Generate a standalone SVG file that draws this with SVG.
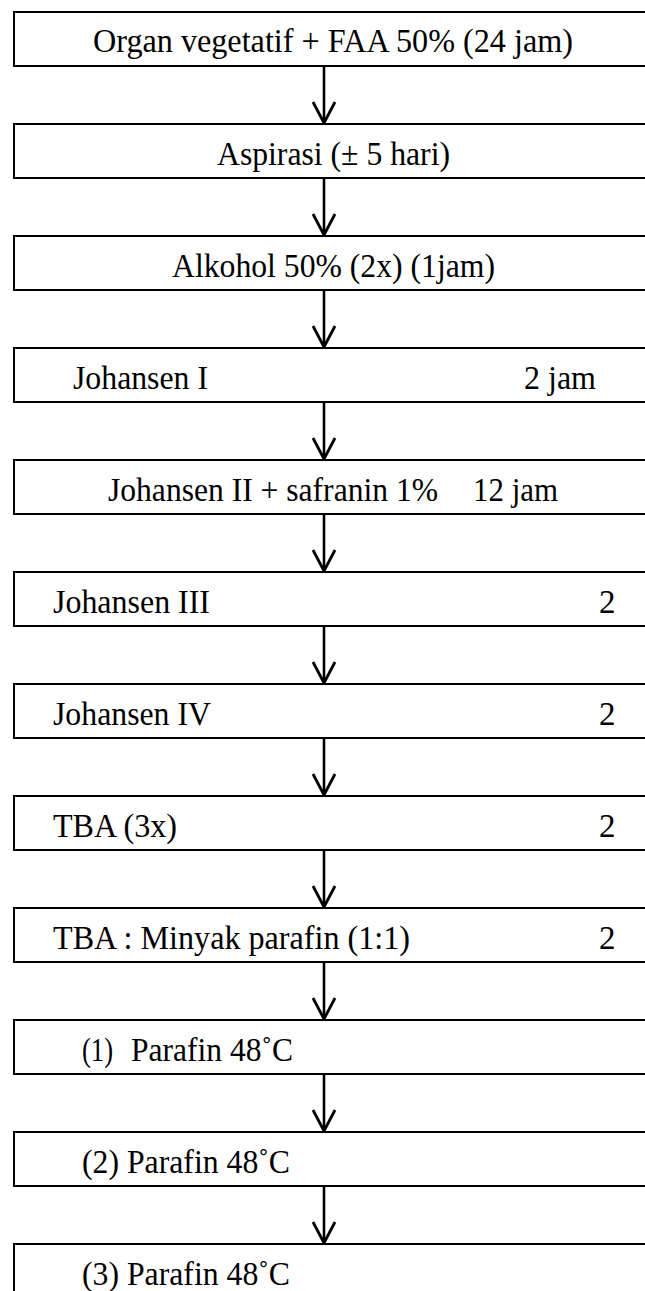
<svg xmlns="http://www.w3.org/2000/svg" width="645" height="1291" viewBox="0 0 645 1291">
<style>
.box{fill:#fff;stroke:#000;stroke-width:2}
.t{font-family:'Liberation Serif','Times New Roman',serif;font-size:33px;fill:#000}
.c{stroke:#000;stroke-width:2.6;fill:none}
</style>
<defs>
<marker id="arr" markerUnits="userSpaceOnUse" markerWidth="26" markerHeight="26" viewBox="-13 -24 26 26" refX="0" refY="0" orient="0" overflow="visible">
<path d="M-11,-21 L0,0 L11,-21" fill="none" stroke="#000" stroke-width="2.8" stroke-linejoin="miter"/>
</marker>
</defs>
<rect width="645" height="1291" fill="#fff"/>
<g id="connectors">
<line class="c" x1="324" y1="66" x2="324" y2="123" marker-end="url(#arr)"/>
<line class="c" x1="324" y1="178" x2="324" y2="235" marker-end="url(#arr)"/>
<line class="c" x1="324" y1="290" x2="324" y2="347" marker-end="url(#arr)"/>
<line class="c" x1="324" y1="402" x2="324" y2="459" marker-end="url(#arr)"/>
<line class="c" x1="324" y1="514" x2="324" y2="571" marker-end="url(#arr)"/>
<line class="c" x1="324" y1="626" x2="324" y2="683" marker-end="url(#arr)"/>
<line class="c" x1="324" y1="738" x2="324" y2="795" marker-end="url(#arr)"/>
<line class="c" x1="324" y1="850" x2="324" y2="907" marker-end="url(#arr)"/>
<line class="c" x1="324" y1="962" x2="324" y2="1019" marker-end="url(#arr)"/>
<line class="c" x1="324" y1="1074" x2="324" y2="1131" marker-end="url(#arr)"/>
<line class="c" x1="324" y1="1186" x2="324" y2="1243" marker-end="url(#arr)"/>
</g>
<g id="n1"><rect class="box" x="14" y="12" width="700" height="54"/><text class="t" x="93" y="52" textLength="480" lengthAdjust="spacingAndGlyphs">Organ vegetatif + FAA 50% (24 jam)</text></g>
<g id="n2"><rect class="box" x="14" y="124" width="700" height="54"/><text class="t" x="217" y="164.5" textLength="233" lengthAdjust="spacingAndGlyphs">Aspirasi (± 5 hari)</text></g>
<g id="n3"><rect class="box" x="14" y="236" width="700" height="54"/><text class="t" x="172" y="276.5" textLength="323" lengthAdjust="spacingAndGlyphs">Alkohol 50% (2x) (1jam)</text></g>
<g id="n4"><rect class="box" x="14" y="348" width="700" height="54"/><text class="t" x="73" y="388.5" textLength="135" lengthAdjust="spacingAndGlyphs">Johansen I</text><text class="t" x="524" y="388.5" textLength="72" lengthAdjust="spacingAndGlyphs">2 jam</text></g>
<g id="n5"><rect class="box" x="14" y="460" width="700" height="54"/><text class="t" x="108" y="500.5" textLength="330" lengthAdjust="spacingAndGlyphs">Johansen II + safranin 1%</text><text class="t" x="473" y="500.5" textLength="85" lengthAdjust="spacingAndGlyphs">12 jam</text></g>
<g id="n6"><rect class="box" x="14" y="572" width="700" height="54"/><text class="t" x="53" y="612.5" textLength="157" lengthAdjust="spacingAndGlyphs">Johansen III</text><text class="t" x="599" y="612.5">2</text></g>
<g id="n7"><rect class="box" x="14" y="684" width="700" height="54"/><text class="t" x="53" y="724.5" textLength="158" lengthAdjust="spacingAndGlyphs">Johansen IV</text><text class="t" x="599" y="724.5">2</text></g>
<g id="n8"><rect class="box" x="14" y="796" width="700" height="54"/><text class="t" x="53" y="836.5" textLength="124" lengthAdjust="spacingAndGlyphs">TBA (3x)</text><text class="t" x="599" y="836.5">2</text></g>
<g id="n9"><rect class="box" x="14" y="908" width="700" height="54"/><text class="t" x="53" y="948.5" textLength="357" lengthAdjust="spacingAndGlyphs">TBA : Minyak parafin (1:1)</text><text class="t" x="599" y="948.5">2</text></g>
<g id="n10"><rect class="box" x="14" y="1020" width="700" height="54"/><text class="t" x="82" y="1060.5" textLength="31" lengthAdjust="spacingAndGlyphs">(1)</text><text class="t" x="131" y="1060.5" textLength="162" lengthAdjust="spacingAndGlyphs">Parafin 48˚C</text></g>
<g id="n11"><rect class="box" x="14" y="1132" width="700" height="54"/><text class="t" x="82" y="1172.5" textLength="208" lengthAdjust="spacingAndGlyphs">(2) Parafin 48˚C</text></g>
<g id="n12"><rect class="box" x="14" y="1244" width="700" height="54"/><text class="t" x="82" y="1284.5" textLength="208" lengthAdjust="spacingAndGlyphs">(3) Parafin 48˚C</text></g>
</svg>
